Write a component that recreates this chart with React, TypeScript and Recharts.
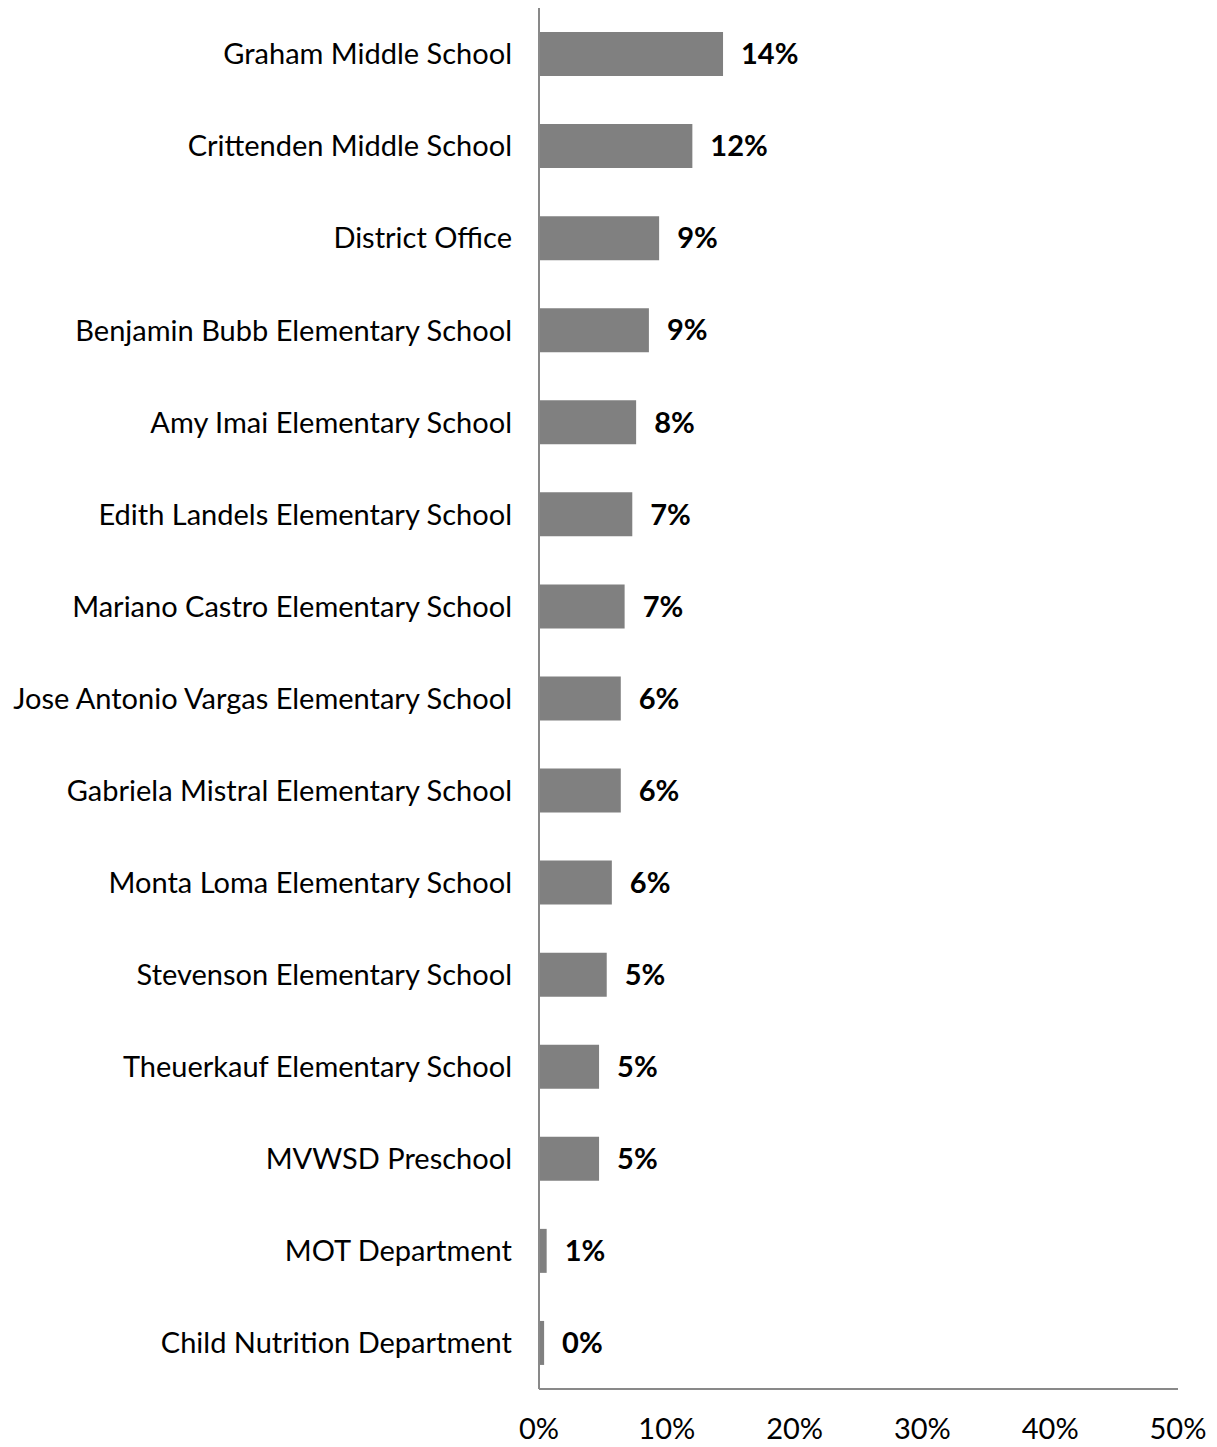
import React from 'react';
import { BarChart, Bar, XAxis, YAxis, LabelList } from 'recharts';

const categories = [
  'Graham Middle School',
  'Crittenden Middle School',
  'District Office',
  'Benjamin Bubb Elementary School',
  'Amy Imai Elementary School',
  'Edith Landels Elementary School',
  'Mariano Castro Elementary School',
  'Jose Antonio Vargas Elementary School',
  'Gabriela Mistral Elementary School',
  'Monta Loma Elementary School',
  'Stevenson Elementary School',
  'Theuerkauf Elementary School',
  'MVWSD Preschool',
  'MOT Department',
  'Child Nutrition Department',
];

const values = [14.4, 12.0, 9.4, 8.6, 7.6, 7.3, 6.7, 6.4, 6.4, 5.7, 5.3, 4.7, 4.7, 0.6, 0.4];

const xTicks = [0, 10, 20, 30, 40, 50];

const data = categories.map((name, i) => ({ name, value: values[i] }));

const AXIS_COLOR = '#898989';
const FONT = 'Lato, "Noto Sans", sans-serif';
const FONT_SIZE = 29;

export default function App() {
  return (
    <div style={{ position: 'absolute', left: 0, top: 0, width: 1217, height: 1447, background: '#fff' }}>
      <BarChart
        width={1217}
        height={1447}
        data={data}
        layout="vertical"
        margin={{ top: 8, right: 39, bottom: 0, left: 0 }}
        barSize={44}
      >
        <XAxis
          type="number"
          domain={[0, 50]}
          ticks={xTicks}
          interval={0}
          tickFormatter={(v: number) => `${v}%`}
          axisLine={{ stroke: AXIS_COLOR, strokeWidth: 2 }}
          tickLine={false}
          tickSize={0}
          tickMargin={29}
          height={58}
          tick={{ fontSize: FONT_SIZE, fill: '#000', fontFamily: FONT }}
        />
        <YAxis
          type="category"
          dataKey="name"
          width={539}
          interval={0}
          axisLine={{ stroke: AXIS_COLOR, strokeWidth: 2 }}
          tickLine={false}
          tickSize={0}
          tickMargin={27}
          tick={{ fontSize: FONT_SIZE, fill: '#000', fontFamily: FONT }}
        />
        <Bar dataKey="value" fill="#808080" isAnimationActive={false}>
          <LabelList
            dataKey="value"
            position="right"
            offset={18}
            formatter={(v: any) => `${Math.round(Number(v))}%`}
            fill="#000"
            fontSize={FONT_SIZE}
            fontWeight={700}
            fontFamily={FONT}
          />
        </Bar>
      </BarChart>
    </div>
  );
}
